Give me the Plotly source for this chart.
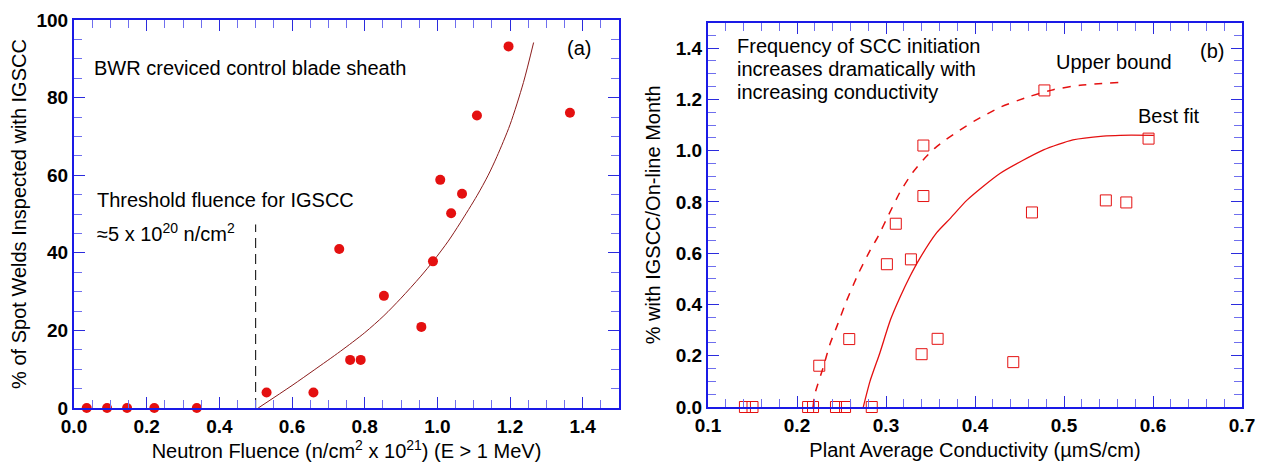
import plotly.graph_objects as go

# ---------------- Data: panel (a) ----------------
fluence = [0.035, 0.091, 0.146, 0.221, 0.338, 0.530, 0.659, 0.730, 0.760, 0.789,
           0.853, 0.956, 0.988, 1.008, 1.038, 1.068, 1.109, 1.196, 1.365]
pct_welds = [0, 0, 0, 0, 0, 4.0, 4.0, 41.0, 12.4, 12.4,
             28.9, 20.9, 37.8, 58.8, 50.2, 55.2, 75.4, 93.2, 76.1]

fit_a_x = [0.507, 0.60, 0.661, 0.733, 0.80, 0.853, 0.90, 0.953, 0.990, 1.03, 1.063,
           1.109, 1.140, 1.164, 1.20, 1.237, 1.265]
fit_a_y = [0, 5.8, 9.8, 14.6, 19.4, 23.8, 28.3, 33.8, 38.0, 43.0, 47.7,
           54.7, 60.0, 64.8, 73.0, 83.9, 94.2]

threshold_x = [0.5, 0.5]
threshold_y = [0, 47.3]

# ---------------- Data: panel (b) ----------------
conductivity = [0.1415, 0.150, 0.2125, 0.218, 0.2438, 0.254, 0.284,
                0.225, 0.2587, 0.301, 0.311, 0.328, 0.342, 0.342, 0.340, 0.358,
                0.443, 0.464, 0.478, 0.547, 0.570, 0.595]
freq = [0, 0, 0, 0, 0, 0, 0,
        0.161, 0.265, 0.557, 0.715, 0.576, 1.020, 0.823, 0.206, 0.266,
        0.175, 0.759, 1.235, 0.806, 0.798, 1.047]

upper_x = [0.218, 0.2202, 0.2296, 0.237, 0.2446, 0.256, 0.269, 0.282, 0.291, 0.303,
           0.316, 0.330, 0.342, 0.355, 0.368, 0.383, 0.400, 0.428, 0.460, 0.488,
           0.518, 0.563]
upper_y = [0, 0.052, 0.156, 0.245, 0.3125, 0.417, 0.521, 0.61, 0.665, 0.75,
           0.84, 0.915, 0.965, 1.01, 1.045, 1.08, 1.117, 1.169, 1.21, 1.238,
           1.255, 1.266]

best_x = [0.2745, 0.282, 0.293, 0.305, 0.316, 0.327, 0.338, 0.357, 0.372, 0.391,
          0.428, 0.477, 0.510, 0.544, 0.563, 0.601]
best_y = [0, 0.10, 0.21, 0.34, 0.43, 0.51, 0.58, 0.68, 0.735, 0.807,
          0.911, 1.003, 1.042, 1.057, 1.060, 1.060]

OFF = 8  # default page body margin
W, H = 1266 - 2 * OFF, 464 - OFF
BLUE = "#1a1ae6"
TICKC = "#2b2bdd"
RED = "#e41010"
FAM = "Liberation Sans, Arial, sans-serif"


def px(x):
    return (x - OFF) / W


def py(y):
    return 1 - (y - OFF) / H


fig = go.Figure()

fig.add_trace(go.Scatter(x=threshold_x, y=threshold_y, mode="lines",
                         line=dict(color="black", width=1, dash="10px,6px"),
                         xaxis="x", yaxis="y", showlegend=False))
fig.add_trace(go.Scatter(x=fit_a_x, y=fit_a_y, mode="lines",
                         line=dict(color="#8b1c1c", width=1, shape="spline", smoothing=0.8),
                         xaxis="x", yaxis="y", showlegend=False))
fig.add_trace(go.Scatter(x=fluence, y=pct_welds, mode="markers",
                         marker=dict(color=RED, size=10, symbol="circle"),
                         xaxis="x", yaxis="y", showlegend=False, cliponaxis=False))

fig.add_trace(go.Scatter(x=upper_x, y=upper_y, mode="lines",
                         line=dict(color=RED, width=1.5, dash="8px,8px", shape="spline", smoothing=0.6),
                         xaxis="x2", yaxis="y2", showlegend=False))
fig.add_trace(go.Scatter(x=best_x, y=best_y, mode="lines",
                         line=dict(color=RED, width=1.3, shape="spline", smoothing=0.6),
                         xaxis="x2", yaxis="y2", showlegend=False))
fig.add_trace(go.Scatter(x=conductivity, y=freq, mode="markers",
                         marker=dict(color=RED, size=11, symbol="square-open",
                                     line=dict(color=RED, width=1)),
                         xaxis="x2", yaxis="y2", showlegend=False, cliponaxis=False))

tickfont = dict(family=FAM, size=19, color="black", weight="bold")
titlefont = dict(family=FAM, size=20, color="black")


def axis(domain, rng, dtick, minor_dtick, title, anchor, standoff, fmt):
    return dict(domain=domain, range=rng, dtick=dtick, tick0=rng[0], tickformat=fmt,
                ticks="inside", ticklen=11, tickwidth=1, tickcolor=TICKC,
                showline=True, linecolor=BLUE, linewidth=2, mirror="ticks",
                showgrid=False, zeroline=False, anchor=anchor, automargin=False,
                tickfont=tickfont, title=dict(text=title, font=titlefont, standoff=standoff),
                minor=dict(dtick=minor_dtick, tick0=rng[0], ticks="inside", ticklen=8,
                           tickcolor="#6f6fee", tickwidth=1, showgrid=False))


fig.update_layout(
    width=W, height=H, margin=dict(l=0, r=0, t=0, b=0, autoexpand=False),
    paper_bgcolor="white", plot_bgcolor="white",
    xaxis=axis([px(74), px(619)], [0, 1.5], 0.2, 0.05,
               "Neutron Fluence (n/cm<sup>2</sup> x 10<sup>21</sup>) (E > 1 MeV)", "y", 8, ".1f"),
    yaxis=axis([py(408), py(20)], [0, 100], 20, 5,
               "% of Spot Welds Inspected with IGSCC", "x", 6, "d"),
    xaxis2=axis([px(708), px(1242)], [0.1, 0.7], 0.1, 0.02,
                "Plant Average Conductivity (µmS/cm)", "y2", 8, ".1f"),
    yaxis2=axis([py(407), py(22.5)], [0, 1.5], 0.2, 0.05,
                "% with IGSCC/On-line Month", "x2", 10, ".1f"),
)

afont = dict(family=FAM, size=20, color="black")


def ann(text, x, y, xanchor="left", yanchor="middle"):
    fig.add_annotation(text=text, x=px(x), y=py(y), xref="paper", yref="paper",
                       xanchor=xanchor, yanchor=yanchor, showarrow=False, font=afont,
                       align="left")


ann("BWR creviced control blade sheath", 92, 68)
ann("Threshold fluence for IGSCC", 95, 200)
ann("≈5 x 10<sup>20</sup> n/cm<sup>2</sup>", 95, 232)
ann("(a)", 565, 48)
ann("Frequency of SCC initiation", 735, 46)
ann("increases dramatically with", 735, 69)
ann("increasing conductivity", 735, 92)
ann("Upper bound", 1054, 62)
ann("Best fit", 1136, 116)
ann("(b)", 1198, 51)

fig.write_html("out.html")
